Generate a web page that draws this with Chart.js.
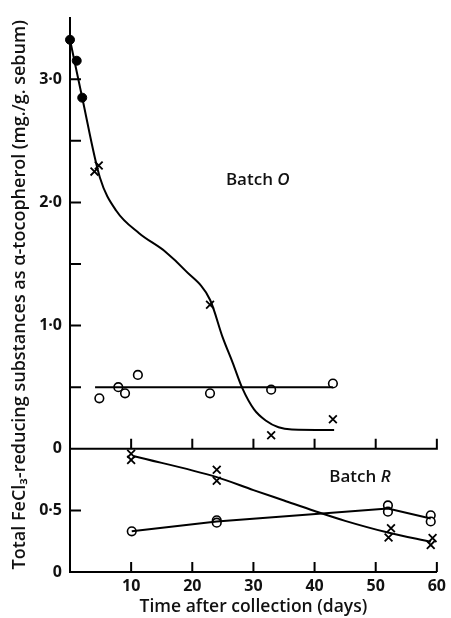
<!DOCTYPE html>
<html>
<head>
<meta charset="utf-8">
<script src="https://cdn.jsdelivr.net/npm/chart.js@4.4.1/dist/chart.umd.min.js"></script>
<style>
  html, body { margin: 0; padding: 0; background: #fff; }
</style>
</head>
<body>
<canvas id="grafica" width="451" height="618"></canvas>
<script>
// ---- Batch O (panel de arriba) ----
var diasOPuntos = [0, 1.1, 2.0];
var valOPuntos = [3.32, 3.15, 2.85];
var diasOCruces = [4.0, 4.7, 22.9, 32.9, 43.0];
var valOCruces = [2.25, 2.30, 1.17, 0.11, 0.24];
var diasOCirculos = [4.8, 7.9, 9.0, 11.1, 22.9, 32.9, 43.0];
var valOCirculos = [0.41, 0.50, 0.45, 0.60, 0.45, 0.48, 0.53];
// curva dibujada a mano en el original
var diasOCurva = [0, 2.0, 4.9, 7.6, 11.3, 15.6, 18.8, 22.9, 25.0, 26.6, 28.2, 30.1, 32.0, 34.1, 36.3, 43.2];
var valOCurva = [3.32, 2.85, 2.20, 1.93, 1.75, 1.60, 1.45, 1.21, 0.90, 0.70, 0.49, 0.32, 0.23, 0.175, 0.157, 0.153];
var diasOLinea = [4.1, 43.0];
var valOLinea = [0.5, 0.5];

// ---- Batch R (panel de abajo, su 0 esta en -1 del eje comun) ----
var diasRCruces = [10, 10, 24, 24, 52.5, 52.1, 59.3, 59.0];
var valRCruces = [0.96, 0.91, 0.83, 0.74, 0.355, 0.28, 0.275, 0.22];
var diasRCirculos = [10.1, 24, 24, 52, 52, 59, 59];
var valRCirculos = [0.33, 0.42, 0.40, 0.54, 0.49, 0.46, 0.41];
var diasRCurva = [10.5, 24, 30, 35, 40, 45, 52, 59];
var valRCurva = [0.94, 0.77, 0.665, 0.58, 0.495, 0.415, 0.32, 0.245];
var diasRLinea = [10.1, 24, 52, 59];
var valRLinea = [0.33, 0.41, 0.515, 0.435];
var desplazamientoR = -1;

// ---- ejes ----
var xTicks = [10, 20, 30, 40, 50, 60];
var yTicks = [-1, -0.5, 0, 1, 2, 3];
var yEtiquetas = ['0', '0·5', '0', '1·0', '2·0', '3·0'];
var yMarcas = [-0.5, 0.5, 1, 1.5, 2, 2.5, 3];
var tituloY = 'Total FeCl₃-reducing substances as α-tocopherol (mg./g. sebum)';
var tituloX = 'Time after collection (days)';

var fuente = '"Open Sans"';
var negro = '#111';

function puntos(xs, ys, d) {
  d = d || 0;
  var arr = [];
  for (var i = 0; i < xs.length; i++) {
    arr.push({ x: xs[i], y: ys[i] + d });
  }
  return arr;
}

function linea(xs, ys, d, curva) {
  return {
    data: puntos(xs, ys, d),
    showLine: true,
    borderColor: '#000',
    borderWidth: 2,
    pointRadius: 0,
    tension: curva ? 0.4 : 0,
    cubicInterpolationMode: curva ? 'monotone' : 'default',
    clip: false
  };
}

function marcas(xs, ys, d, estilo) {
  var ds = {
    data: puntos(xs, ys, d),
    showLine: false,
    clip: false,
    pointHoverRadius: 0
  };
  if (estilo === 'lleno') {
    ds.pointStyle = 'circle'; ds.pointRadius = 4.5;
    ds.pointBackgroundColor = '#000'; ds.pointBorderColor = '#000'; ds.pointBorderWidth = 1;
  } else if (estilo === 'abierto') {
    ds.pointStyle = 'circle'; ds.pointRadius = 4.3;
    ds.pointBackgroundColor = '#fff'; ds.pointBorderColor = '#000'; ds.pointBorderWidth = 1.6;
  } else {
    ds.pointStyle = 'crossRot'; ds.pointRadius = 5.5;
    ds.pointBorderColor = '#000'; ds.pointBorderWidth = 1.8;
  }
  return ds;
}

var marcasEjes = {
  id: 'marcasEjes',
  beforeDatasetsDraw: function (chart) {
    var c = chart.ctx, xs = chart.scales.x, ys = chart.scales.y;
    c.save();
    c.strokeStyle = '#000';
    c.lineWidth = 2;
    c.beginPath();
    // linea que separa los dos paneles
    var y0 = ys.getPixelForValue(0);
    c.moveTo(xs.getPixelForValue(0), y0);
    c.lineTo(xs.getPixelForValue(60) + 1, y0);
    // marcas del eje x hacia adentro, en los dos paneles
    xTicks.forEach(function (v) {
      var px = xs.getPixelForValue(v);
      [0, -1].forEach(function (b) {
        var py = ys.getPixelForValue(b);
        c.moveTo(px, py);
        c.lineTo(px, py - 10);
      });
    });
    // marcas del eje y hacia adentro
    yMarcas.forEach(function (v) {
      var py = ys.getPixelForValue(v);
      c.moveTo(xs.getPixelForValue(0), py);
      c.lineTo(xs.getPixelForValue(0) + 11, py);
    });
    c.stroke();
    c.restore();
  },
  afterDraw: function (chart) {
    var c = chart.ctx, xs = chart.scales.x, ys = chart.scales.y;
    c.save();
    c.fillStyle = negro;
    c.textBaseline = 'middle';
    function rotulo(txt, letra, dx, dy) {
      var px = xs.getPixelForValue(dx), py = ys.getPixelForValue(dy);
      c.font = '600 17px ' + fuente;
      c.fillText(txt, px, py);
      var w = c.measureText(txt).width;
      c.font = 'italic 600 17px ' + fuente;
      c.fillText(letra, px + w, py);
    }
    rotulo('Batch ', 'O', 25.5, 2.18);
    rotulo('Batch ', 'R', 42.4, 0.77 + desplazamientoR);
    c.restore();
  }
};

var ctx = document.getElementById('grafica').getContext('2d');
var grafica = new Chart(ctx, {
  type: 'scatter',
  data: {
    datasets: [
      linea(diasOCurva, valOCurva, 0, true),
      linea(diasOLinea, valOLinea, 0, false),
      linea(diasRCurva, valRCurva, desplazamientoR, true),
      linea(diasRLinea, valRLinea, desplazamientoR, false),
      marcas(diasOPuntos, valOPuntos, 0, 'lleno'),
      marcas(diasOCruces, valOCruces, 0, 'cruz'),
      marcas(diasOCirculos, valOCirculos, 0, 'abierto'),
      marcas(diasRCruces, valRCruces, desplazamientoR, 'cruz'),
      marcas(diasRCirculos, valRCirculos, desplazamientoR, 'abierto')
    ]
  },
  options: {
    responsive: false,
    animation: false,
    devicePixelRatio: 1,
    events: [],
    layout: { padding: { left: 0, top: 13, right: 9, bottom: 0 } },
    plugins: { legend: { display: false }, tooltip: { enabled: false } },
    scales: {
      x: {
        type: 'linear', min: 0, max: 60,
        afterBuildTicks: function (s) { s.ticks = xTicks.map(function (v) { return { value: v }; }); },
        afterFit: function (s) { s.height = 46; },
        grid: { display: false, drawTicks: false },
        border: { display: true, color: '#000', width: 2 },
        ticks: {
          color: negro, padding: 5, maxRotation: 0, autoSkip: false,
          font: { family: fuente, size: 16, weight: 'bold' }
        },
        title: {
          display: true, text: tituloX, color: negro,
          font: { family: fuente, size: 17.5, weight: '600' },
          padding: { top: 0, bottom: 0 }
        }
      },
      y: {
        type: 'linear', min: -1, max: 3.5,
        afterBuildTicks: function (s) { s.ticks = yTicks.map(function (v) { return { value: v }; }); },
        afterFit: function (s) { s.width = 70; },
        grid: { display: false, drawTicks: false },
        border: { display: true, color: '#000', width: 2 },
        ticks: {
          color: negro, padding: 8, autoSkip: false,
          font: { family: fuente, size: 16, weight: 'bold' },
          callback: function (v) {
            var i = yTicks.indexOf(v);
            return i >= 0 ? yEtiquetas[i] : '';
          }
        },
        title: {
          display: true, text: tituloY, color: negro,
          font: { family: fuente, size: 18, weight: '600' },
          padding: { top: 9, bottom: 0 }
        }
      }
    }
  },
  plugins: [marcasEjes]
});
</script>
</body>
</html>
